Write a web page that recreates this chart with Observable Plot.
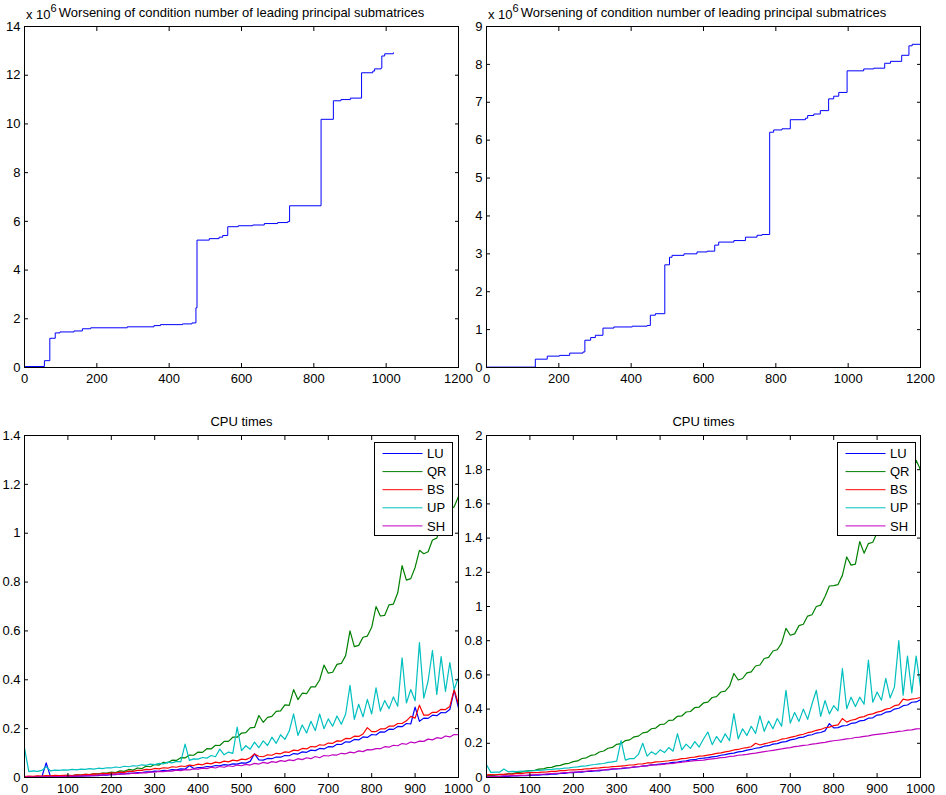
<!DOCTYPE html>
<html>
<head>
<meta charset="utf-8">
<script src="https://cdn.jsdelivr.net/npm/d3@7"></script>
<script src="https://cdn.jsdelivr.net/npm/@observablehq/plot@0.6"></script>
<style>
  body { margin: 0; background: #fff; }
  #fig { position: relative; width: 946px; height: 795px; background: #fff; font-family: "Liberation Sans", Arial, Helvetica, sans-serif; }
</style>
</head>
<body>
<div id="fig"></div>
<script>
// ---------------- data ----------------
const topTitle = "Worsening of condition number of leading principal submatrices";
const bottomTitle = "CPU times";
const expBase = "x 10";
const expPower = "6";

// top-left: step curve (matrix size, value in units of 10^6)
const tlX = [0,55,70,85,98,137,160,183,284,358,376,437,463,474,477,511,538,548,562,591,631,663,700,728,733,820,854,875,901,932,963,968,986,988,996,1020];
const tlY = [0.04,0.28,1.2,1.42,1.46,1.5,1.59,1.63,1.67,1.72,1.76,1.79,1.83,2.45,5.23,5.29,5.35,5.42,5.78,5.82,5.85,5.91,5.95,5.99,6.64,10.19,10.95,11.0,11.06,12.1,12.17,12.26,12.3,12.79,12.88,12.92];
// top-right
const trX = [0,135,168,202,230,267,272,288,301,322,352,403,444,453,467,493,506,513,546,582,610,631,642,684,716,748,762,783,794,817,840,882,888,905,923,946,960,974,997,1043,1071,1101,1117,1148,1168,1177,1200];
const trY = [0.01,0.22,0.30,0.32,0.38,0.41,0.72,0.79,0.85,1.04,1.07,1.09,1.11,1.38,1.42,2.71,2.91,2.96,3.0,3.05,3.07,3.23,3.31,3.35,3.44,3.49,3.51,6.21,6.27,6.30,6.54,6.58,6.65,6.69,6.78,7.09,7.16,7.26,7.83,7.88,7.9,8.03,8.08,8.24,8.49,8.53,8.58];

const topXTicks = [0,200,400,600,800,1000,1200];
const tlYTicks = [0,2,4,6,8,10,12,14];
const trYTicks = [0,1,2,3,4,5,6,7,8,9];
const botXTicks = [0,100,200,300,400,500,600,700,800,900,1000];
const blYTicks = [0,0.2,0.4,0.6,0.8,1,1.2,1.4];
const brYTicks = [0,0.2,0.4,0.6,0.8,1,1.2,1.4,1.6,1.8,2];

const series = ["LU","QR","BS","UP","SH"];
const colors = ["#0000ff","#008000","#ff0000","#00bfbf","#bf00bf"];

// bottom plots: matrix sizes 0..1000 every 10, CPU times in milliseconds
const sizes = [0,10,20,30,40,50,60,70,80,90,100,110,120,130,140,150,160,170,180,190,200,210,220,230,240,250,260,270,280,290,300,310,320,330,340,350,360,370,380,390,400,410,420,430,440,450,460,470,480,490,500,510,520,530,540,550,560,570,580,590,600,610,620,630,640,650,660,670,680,690,700,710,720,730,740,750,760,770,780,790,800,810,820,830,840,850,860,870,880,890,900,910,920,930,940,950,960,970,980,990,1000];

// bottom-left
const luL = [2,2,3,2,3,60,3,3,4,3,
  5,4,6,6,7,7,9,8,11,10,
  13,12,15,15,18,17,20,20,23,23,
  26,25,29,28,32,31,35,34,49,37,
  41,41,45,44,49,48,53,51,56,55,
  60,59,66,97,72,71,78,77,84,83,
  90,89,98,96,105,103,112,110,119,117,
  126,125,136,135,146,145,156,154,166,164,
  176,174,187,186,198,197,209,208,221,219,
  288,230,243,242,255,253,266,265,278,357,
  285];
const qrL = [3,4,3,5,4,6,5,7,6,8,
  9,8,11,10,13,12,15,15,18,18,
  22,20,27,25,33,30,39,36,46,44,
  53,51,62,60,71,70,81,80,92,91,
  104,103,118,117,132,131,148,148,165,165,
  182,184,203,205,254,226,246,250,271,273,
  297,295,360,319,345,343,371,371,399,460,
  427,431,463,467,499,600,536,541,574,579,
  615,700,661,664,707,710,756,867,808,814,
  860,930,916,924,972,980,1032,1044,1096,1108,
  1150];
const bsL = [4,6,5,7,6,8,7,9,8,9,
  9,8,11,10,13,12,15,14,17,16,
  19,18,22,21,26,25,29,29,33,32,
  37,35,40,38,44,42,47,45,51,49,
  55,52,59,56,63,60,67,64,71,68,
  75,73,81,96,87,85,93,91,99,97,
  105,103,112,110,119,117,127,125,134,132,
  141,140,150,149,160,159,169,168,178,204,
  188,188,199,199,210,210,221,221,232,250,
  243,296,255,255,267,267,279,278,291,360,
  300];
const upL = [120,24,27,25,29,44,27,30,29,31,
  30,33,31,34,33,36,34,38,36,40,
  39,43,41,46,44,48,47,52,50,55,
  53,58,56,63,60,66,64,137,70,76,
  75,82,79,90,85,116,93,104,99,206,
  110,130,116,145,122,150,131,165,140,175,
  156,190,260,172,215,182,230,192,260,200,
  240,210,252,218,260,377,238,300,248,320,
  260,367,272,315,282,330,292,490,305,360,
  314,552,325,395,520,340,495,352,470,360,
  410];
const shL = [2,3,2,3,3,4,3,4,4,5,
  5,6,6,7,7,9,8,10,10,12,
  12,14,13,16,15,18,17,20,19,22,
  22,25,24,27,26,30,28,32,31,35,
  34,38,36,42,39,45,42,48,45,51,
  48,54,51,58,55,62,58,65,62,69,
  66,72,69,77,73,81,77,86,81,90,
  88,93,92,99,97,104,101,109,106,114,
  113,118,118,126,124,132,130,139,136,145,
  142,149,148,157,154,163,160,170,166,176,
  175];

// bottom-right
const luR = [3,4,5,5,7,7,9,9,11,11,
  12,14,14,17,17,20,20,24,24,28,
  28,31,31,35,35,39,39,44,44,49,
  50,52,55,57,61,63,67,69,74,75,
  78,81,84,88,90,95,97,103,104,111,
  113,116,121,124,130,134,140,143,150,153,
  160,164,171,175,183,186,195,198,207,210,
  220,224,233,236,246,250,260,263,273,315,
  290,292,302,304,316,319,331,334,347,349,
  365,368,382,385,400,405,420,424,440,442,
  455];
const qrR = [10,13,13,17,17,21,23,29,31,37,
  40,41,49,50,58,59,68,71,80,83,
  93,97,111,115,129,133,149,155,171,176,
  194,198,216,220,238,242,261,265,285,289,
  310,312,334,336,358,360,383,386,409,412,
  436,441,468,473,500,505,534,608,570,579,
  612,618,652,658,696,702,740,747,786,872,
  832,840,888,896,944,952,1000,1008,1058,1120,
  1122,1128,1182,1290,1242,1248,1380,1312,1368,1376,
  1432,1444,1504,1516,1576,1588,1652,1668,1732,1855,
  1800];
const bsR = [15,17,16,19,18,21,20,24,23,27,
  28,29,30,32,33,36,36,40,40,44,
  45,46,48,51,52,55,56,59,60,64,
  65,67,69,73,74,79,80,85,86,91,
  92,95,98,102,105,110,112,117,119,125,
  127,131,135,141,144,150,154,161,164,171,
  175,180,200,190,197,203,210,215,224,228,
  235,240,248,253,262,267,276,281,291,295,
  303,308,345,324,335,340,352,356,368,372,
  382,388,400,405,420,425,458,452,458,462,
  468];
const upR = [75,30,32,31,50,33,36,34,38,36,
  39,40,42,43,46,47,50,51,55,56,
  60,62,66,68,73,76,80,82,88,91,
  96,215,102,110,110,135,200,125,150,135,
  162,146,175,154,256,162,195,170,210,178,
  225,266,192,240,205,255,215,374,226,285,
  245,300,258,360,270,330,285,345,300,510,
  318,380,328,400,340,430,510,358,450,372,
  420,390,637,402,470,415,470,428,686,440,
  500,452,580,465,530,800,482,710,495,710,
  530];
const shR = [5,6,7,7,9,9,11,11,13,13,
  15,16,18,19,21,23,25,26,29,30,
  32,33,36,37,40,41,44,45,48,50,
  52,54,57,58,62,63,67,68,72,73,
  75,78,81,83,87,89,93,95,99,100,
  102,106,109,112,116,118,123,125,130,132,
  135,140,143,147,151,155,159,163,167,172,
  175,181,183,188,190,195,198,203,205,211,
  215,218,221,226,228,234,236,241,243,249,
  252,255,258,263,265,270,272,277,279,284,
  285];

// ---------------- build ----------------
const fig = document.getElementById("fig");
const FONT = '"Liberation Sans", Arial, Helvetica, sans-serif';
const fmt = d => String(d);

function toRows(lists) {
  const rows = [];
  series.forEach((s, k) => {
    const vals = lists[k];
    if (vals.length !== sizes.length) throw new Error(s + " length " + vals.length);
    vals.forEach((v, i) => rows.push({series: s, x: sizes[i], y: v / 1000}));
  });
  return rows;
}

function axes(xTicks, yTicks) {
  return [
    Plot.frame({stroke: "black", strokeWidth: 1}),
    Plot.axisX(xTicks, {anchor: "bottom", tickSize: 0, tickPadding: 6, tickFormat: fmt, label: null}),
    Plot.axisX(xTicks, {anchor: "bottom", tickSize: 4, dy: -4, fill: "none", label: null}),
    Plot.axisX(xTicks, {anchor: "top", tickSize: 4, dy: 4, fill: "none", label: null}),
    Plot.axisY(yTicks, {anchor: "left", tickSize: 0, tickPadding: 4, tickFormat: fmt, label: null}),
    Plot.axisY(yTicks, {anchor: "left", tickSize: 4, dx: 4, fill: "none", label: null}),
    Plot.axisY(yTicks, {anchor: "right", tickSize: 4, dx: -4, fill: "none", label: null})
  ];
}

function place(chart, left, top) {
  chart.style.position = "absolute";
  chart.style.left = left + "px";
  chart.style.top = top + "px";
  fig.appendChild(chart);
}

function makePanel({left, top, width, height, mL, mR, mT, mB, xDomain, yDomain, xTicks, yTicks, marks}) {
  const chart = Plot.plot({
    width, height,
    marginLeft: mL, marginRight: mR, marginTop: mT, marginBottom: mB,
    style: {background: "transparent", overflow: "visible", fontSize: "13px", fontFamily: FONT, color: "black"},
    x: {domain: xDomain, label: null},
    y: {domain: yDomain, label: null},
    color: {domain: series, range: colors},
    marks: [...marks, ...axes(xTicks, yTicks)]
  });
  place(chart, left, top);
}

function topMarks(xs, ys) {
  const rows = xs.map((x, i) => ({x, y: ys[i]}));
  return [
    Plot.line(rows, {x: "x", y: "y", curve: "step-after", stroke: "#0000ff", strokeWidth: 1}),
    Plot.text([topTitle], {text: d => d, frameAnchor: "top", dy: -9.5, lineAnchor: "bottom", fontSize: 13}),
    Plot.text([expBase], {text: d => d, frameAnchor: "top-left", textAnchor: "start", dx: 1.5, dy: -7.5, lineAnchor: "bottom", fontSize: 13}),
    Plot.text([expPower], {text: d => d, frameAnchor: "top-left", textAnchor: "start", dx: 26, dy: -14.5, lineAnchor: "bottom", fontSize: 11})
  ];
}

function bottomMarks(rows) {
  return [
    Plot.line(rows, {x: "x", y: "y", z: "series", stroke: "series", strokeWidth: 1.2}),
    Plot.text([bottomTitle], {text: d => d, frameAnchor: "top", dy: -10, lineAnchor: "bottom", fontSize: 13})
  ];
}

function legend(left, top) {
  const svg = d3.create("svg")
    .attr("width", 80).attr("height", 96)
    .style("position", "absolute").style("left", left + "px").style("top", top + "px")
    .style("overflow", "visible").style("font-family", FONT);
  svg.append("rect").attr("x", 0.5).attr("y", 0.5).attr("width", 78).attr("height", 93)
    .attr("fill", "white").attr("stroke", "black").attr("stroke-width", 1);
  series.forEach((s, i) => {
    const cy = 11.5 + i * 18.1;
    svg.append("line").attr("x1", 8.5).attr("x2", 48.5).attr("y1", cy).attr("y2", cy)
      .attr("stroke", colors[i]).attr("stroke-width", 1);
    svg.append("text").attr("x", 53).attr("y", cy + 4.6).attr("font-size", 13).attr("fill", "black").text(s);
  });
  fig.appendChild(svg.node());
}

try {
  makePanel({left: 0, top: 0, width: 470, height: 390, mL: 24, mR: 12, mT: 26, mB: 23,
    xDomain: [0, 1200], yDomain: [0, 14], xTicks: topXTicks, yTicks: tlYTicks, marks: topMarks(tlX, tlY)});
  makePanel({left: 470, top: 0, width: 476, height: 390, mL: 16, mR: 26, mT: 26, mB: 23,
    xDomain: [0, 1200], yDomain: [0, 9], xTicks: topXTicks, yTicks: trYTicks, marks: topMarks(trX, trY)});
  makePanel({left: 0, top: 390, width: 470, height: 405, mL: 24, mR: 12, mT: 45, mB: 18,
    xDomain: [0, 1000], yDomain: [0, 1.4], xTicks: botXTicks, yTicks: blYTicks, marks: bottomMarks(toRows([luL, qrL, bsL, upL, shL]))});
  makePanel({left: 470, top: 390, width: 476, height: 405, mL: 16, mR: 26, mT: 45, mB: 18,
    xDomain: [0, 1000], yDomain: [0, 2], xTicks: botXTicks, yTicks: brYTicks, marks: bottomMarks(toRows([luR, qrR, bsR, upR, shR]))});
  legend(374, 442);
  legend(836.5, 442);
} catch (e) {
  const p = document.createElement("pre");
  p.textContent = "ERROR: " + e.message;
  p.style.position = "absolute"; p.style.top = "380px"; p.style.left = "300px"; p.style.color = "red";
  fig.appendChild(p);
}
</script>
</body>
</html>
